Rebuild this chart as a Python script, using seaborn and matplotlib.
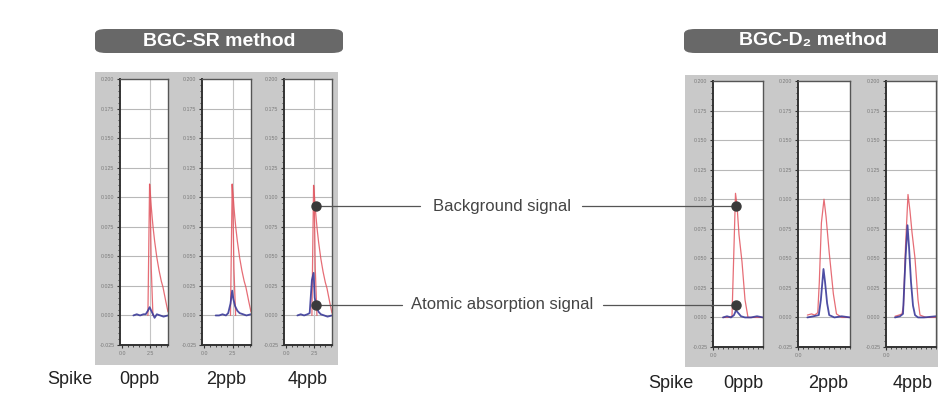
import numpy as np
import pandas as pd
import matplotlib
matplotlib.use("Agg")
import matplotlib.pyplot as plt
from matplotlib.patches import Rectangle, FancyBboxPatch
from matplotlib.ticker import MultipleLocator, FixedLocator
import seaborn as sns

# ---------------- data ----------------
group_titles = ["BGC-SR method", "BGC-D\u2082 method"]
spike_labels = ["0ppb", "2ppb", "4ppb"]
annot_labels = ["Background signal", "Atomic absorption signal"]
y_ticks = [-0.025, 0.000, 0.025, 0.050, 0.075, 0.100, 0.125, 0.150, 0.175, 0.200]

# BGC-SR (left) : time axis, red spike + red tail, blue trace
sr_spike_x = [2.30, 2.38, 2.45, 2.52, 2.60, 2.75]
sr_spike_y = [
    [0.000, 0.060, 0.111, 0.090, 0.040, 0.000],
    [0.000, 0.060, 0.111, 0.090, 0.040, 0.000],
    [0.000, 0.060, 0.110, 0.090, 0.040, 0.000],
]
sr_tail_x = [2.45, 2.52, 2.60, 2.68, 2.77, 2.90, 3.10, 3.30, 3.50, 3.65, 3.90, 4.10]
sr_tail_y = [
    [0.111, 0.103, 0.092, 0.083, 0.074, 0.063, 0.049, 0.038, 0.029, 0.024, 0.012, 0.003],
    [0.111, 0.103, 0.092, 0.083, 0.074, 0.063, 0.049, 0.038, 0.029, 0.024, 0.012, 0.003],
    [0.110, 0.102, 0.091, 0.082, 0.073, 0.062, 0.048, 0.037, 0.028, 0.023, 0.011, 0.002],
]
sr_blue_x = [1.0, 1.3, 1.6, 1.9, 2.1, 2.3, 2.45, 2.55, 2.7, 2.9, 3.1, 3.4, 3.7, 4.1]
sr_blue_y = [
    [0.000, 0.001, 0.000, 0.001, 0.001, 0.004, 0.007, 0.005, 0.002, -0.002, 0.001, 0.000, -0.001, 0.000],
    [0.000, 0.000, 0.001, 0.000, 0.002, 0.010, 0.021, 0.014, 0.008, 0.004, 0.002, 0.001, 0.000, 0.001],
    [0.000, 0.001, 0.000, 0.001, 0.002, 0.030, 0.036, 0.015, 0.008, 0.003, 0.001, 0.000, -0.001, 0.000],
]

# BGC-D2 (right)
d2_red_x = [
    [1.0, 1.5, 1.9, 2.1, 2.25, 2.4, 2.6, 2.9, 3.2, 3.5, 4.0, 5.0],
    [0.9, 1.3, 1.6, 1.9, 2.05, 2.25, 2.5, 2.7, 3.0, 3.4, 3.7, 4.2, 5.0],
    [0.9, 1.3, 1.6, 1.75, 1.95, 2.2, 2.4, 2.6, 2.9, 3.2, 3.4, 4.0, 5.0],
]
d2_red_y = [
    [0.000, 0.000, 0.001, 0.060, 0.105, 0.095, 0.070, 0.047, 0.015, 0.000, 0.000, 0.000],
    [0.002, 0.003, 0.002, 0.004, 0.030, 0.080, 0.100, 0.085, 0.055, 0.020, 0.003, 0.000, 0.000],
    [0.001, 0.002, 0.003, 0.010, 0.060, 0.104, 0.090, 0.072, 0.050, 0.015, 0.002, 0.000, 0.000],
]
d2_blue_x = [
    [1.0, 1.4, 1.8, 2.1, 2.3, 2.5, 2.8, 3.2, 3.8, 4.4, 5.0],
    [0.9, 1.5, 2.0, 2.2, 2.45, 2.6, 2.8, 3.0, 3.5, 4.2, 5.0],
    [0.9, 1.4, 1.7, 1.95, 2.15, 2.3, 2.5, 2.7, 2.9, 3.2, 3.8, 5.0],
]
d2_blue_y = [
    [0.000, 0.001, 0.000, 0.002, 0.006, 0.004, 0.001, 0.000, 0.000, 0.001, 0.000],
    [0.000, 0.001, 0.002, 0.015, 0.041, 0.030, 0.012, 0.002, 0.000, 0.001, 0.000],
    [0.000, 0.001, 0.003, 0.050, 0.078, 0.060, 0.030, 0.010, 0.002, 0.000, 0.000, 0.001],
]

# ---------------- style ----------------
sns.set_style("white")
plt.rcParams["font.family"] = ["Liberation Sans", "DejaVu Sans"]

W, H = 938, 396
fig = plt.figure(figsize=(W / 100, H / 100), dpi=100)
fig.patch.set_facecolor("white")


def rect(x0, y0, x1, y1):
    return [x0 / W, 1 - y1 / H, (x1 - x0) / W, (y1 - y0) / H]


RED = "#e2545e"
BLUE = "#3b3b9a"
GRAY_BG = "#c9c9c9"
TITLE_BG = "#686868"

# group backgrounds
for (x0, y0, x1, y1) in [(95, 72, 338, 365), (685, 75, 945, 367)]:
    fig.patches.append(Rectangle((x0 / W, 1 - y1 / H), (x1 - x0) / W, (y1 - y0) / H,
                                 transform=fig.transFigure, facecolor=GRAY_BG,
                                 edgecolor="none", zorder=0))

# title boxes
for (x0, x1), title in zip([(95, 343), (684, 960)], group_titles):
    fig.patches.append(FancyBboxPatch((x0 / W, 1 - 53 / H), (x1 - x0) / W, 24 / H,
                                      boxstyle="round,pad=0,rounding_size=0.012",
                                      transform=fig.transFigure, facecolor=TITLE_BG,
                                      edgecolor="none", zorder=1))
for cx, title in zip([219, 813], group_titles):
    fig.text(cx / W, 1 - 41 / H, title, ha="center", va="center", color="white",
             fontsize=14, fontweight="bold", zorder=2)


def style_axes(ax, xlim, xtick_vals, xtick_labels, vgrid):
    ax.set_facecolor("white")
    ax.set_ylim(-0.025, 0.200)
    ax.set_xlim(*xlim)
    ax.yaxis.set_major_locator(FixedLocator(y_ticks))
    ax.set_yticklabels([f"{v:.3f}" for v in y_ticks])
    ax.yaxis.set_minor_locator(MultipleLocator(0.005))
    ax.xaxis.set_major_locator(FixedLocator(xtick_vals))
    ax.set_xticklabels(xtick_labels)
    ax.xaxis.set_minor_locator(MultipleLocator(0.5))
    ax.tick_params(axis="both", which="major", direction="out", length=2.5, width=0.8,
                   labelsize=3.8, labelcolor="#7a7a7a", color="#333333", pad=1.5,
                   left=True, bottom=True)
    ax.tick_params(axis="both", which="minor", direction="out", length=1.5, width=0.6,
                   color="#333333", left=True, bottom=True)
    for s in ["left", "bottom"]:
        ax.spines[s].set_linewidth(1.4)
        ax.spines[s].set_color("#333333")
    for s in ["top", "right"]:
        ax.spines[s].set_linewidth(1.0)
        ax.spines[s].set_color("#555555")
    for v in y_ticks[1:-1]:
        ax.axhline(v, color="#b8b8b8", lw=0.8, zorder=0)
    if vgrid is not None:
        ax.axvline(vgrid, color="#c4c4c4", lw=0.8, zorder=0)
    ax.set_xlabel("")
    ax.set_ylabel("")


# left group axes
left_pos = [(120, 168), (202, 251), (284, 332)]
for i, (x0, x1) in enumerate(left_pos):
    ax = fig.add_axes(rect(x0, 79, x1, 345), zorder=3)
    sns.lineplot(x=sr_tail_x, y=sr_tail_y[i], ax=ax, color=RED, lw=0.9, alpha=0.85)
    sns.lineplot(x=sr_spike_x, y=sr_spike_y[i], ax=ax, color=RED, lw=0.9, alpha=0.85)
    sns.lineplot(x=sr_blue_x, y=sr_blue_y[i], ax=ax, color=BLUE, lw=1.3, alpha=0.9)
    style_axes(ax, (-0.2, 4.1), [0.0, 2.5], ["0.0", "2.5"], 2.5)

# right group axes
right_pos = [(713, 763), (798, 850), (886, 936)]
for i, (x0, x1) in enumerate(right_pos):
    ax = fig.add_axes(rect(x0, 81, x1, 347), zorder=3)
    sns.lineplot(x=d2_red_x[i], y=d2_red_y[i], ax=ax, color=RED, lw=0.9, alpha=0.85)
    sns.lineplot(x=d2_blue_x[i], y=d2_blue_y[i], ax=ax, color=BLUE, lw=1.3, alpha=0.9)
    style_axes(ax, (0.0, 5.0), [0.0], ["0.0"], None)

# bottom labels
fig.text(70 / W, 1 - 380 / H, "Spike", ha="center", va="center", fontsize=13, color="#222222")
for cx, lab in zip([139, 226, 308], spike_labels):
    fig.text(cx / W, 1 - 380 / H, lab, ha="center", va="center", fontsize=13, color="#222222")
fig.text(671 / W, 1 - 383 / H, "Spike", ha="center", va="center", fontsize=13, color="#222222")
for cx, lab in zip([743, 828, 913], spike_labels):
    fig.text(cx / W, 1 - 383 / H, lab, ha="center", va="center", fontsize=13, color="#222222")

# annotation overlay
ov = fig.add_axes([0, 0, 1, 1], zorder=10)
ov.set_xlim(0, W)
ov.set_ylim(H, 0)
ov.axis("off")
ov.patch.set_alpha(0)
line_c = "#555555"
for yy, lab, (l_end, r_start) in zip([206, 305], annot_labels, [(420, 582), (402, 603)]):
    ov.plot([316, l_end], [yy, yy], color=line_c, lw=0.9)
    ov.plot([r_start, 736], [yy, yy], color=line_c, lw=0.9)
    ov.plot([316, 736], [yy, yy], ls="none", marker="o", ms=6.5, color="#3a3a3a")
    ov.text(502, yy, lab, ha="center", va="center", fontsize=12, color="#444444")

fig.savefig("out.png", dpi=100)
